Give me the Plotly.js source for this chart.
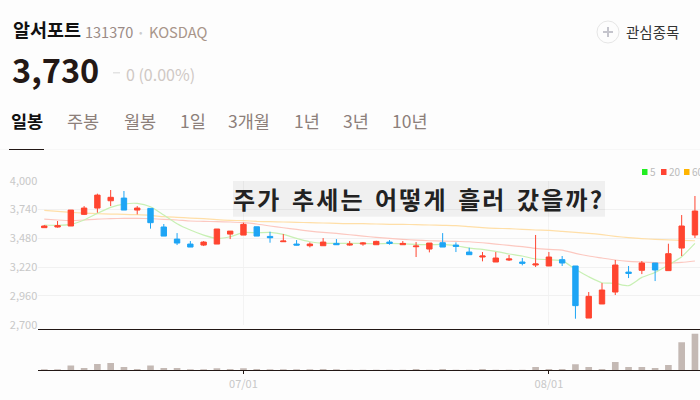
<!DOCTYPE html>
<html><head><meta charset="utf-8">
<script src="https://cdn.plot.ly/plotly-3.0.1.min.js"></script>
<style>html,body{margin:0;padding:0;background:#fdfdfd;overflow:hidden}#c{width:700px;height:400px}
.annotation[data-index="7"] text{letter-spacing:2.1px;word-spacing:3px}</style>
</head><body><div id="c"></div>
<script>
const sessions=[...Array(50).keys()];
const open_=[3576,3582,3591,3696,3753,3819,3843,3735,3750,3582,3473,3428,3419,3428,3518,3509,3584,3497,3449,3428,3413,3413,3434,3419,3428,3422,3446,3422,3404,3383,3440,3419,3356,3311,3266,3284,3266,3239,3230,3287,3230,2760,2887,2995,3175,3191,3257,3188,3392,3510];
const close_=[3591,3594,3735,3753,3870,3850,3735,3753,3621,3500,3437,3401,3446,3564,3545,3606,3500,3485,3455,3419,3428,3446,3422,3428,3437,3452,3434,3434,3410,3437,3401,3407,3332,3320,3302,3293,3254,3248,3311,3257,2872,2956,3013,3239,3163,3257,3194,3341,3591,3726];
const high_=[3600,3636,3735,3771,3883,3916,3907,3771,3750,3609,3527,3455,3455,3564,3545,3621,3584,3539,3518,3464,3443,3482,3473,3455,3446,3458,3464,3455,3446,3437,3527,3443,3395,3356,3356,3329,3302,3510,3356,3320,3230,2995,3076,3284,3230,3275,3257,3431,3690,3862];
const low_=[3576,3576,3591,3690,3711,3771,3735,3696,3567,3500,3419,3401,3410,3428,3473,3509,3500,3440,3449,3416,3398,3413,3422,3413,3413,3422,3422,3422,3311,3353,3401,3356,3332,3272,3266,3275,3236,3221,3230,3230,2754,2760,2887,2968,3121,3157,3094,3188,3320,3483];
const ma5=[3600,3597,3606,3645,3705,3759,3789,3795,3765,3690,3612,3555,3509,3479,3494,3533,3530,3533,3515,3479,3449,3434,3434,3434,3434,3431,3434,3431,3425,3422,3425,3413,3392,3380,3362,3338,3320,3293,3287,3278,3200,3133,3079,3073,3052,3127,3172,3239,3314,3434];
const ma20=[3654,3645,3639,3645,3654,3657,3660,3660,3657,3651,3645,3636,3633,3630,3627,3621,3609,3591,3575,3560,3545,3533,3524,3512,3500,3488,3479,3470,3464,3458,3455,3452,3449,3440,3428,3416,3404,3389,3380,3374,3344,3320,3302,3284,3272,3266,3260,3257,3263,3275];
const ma60=[3732,3723,3714,3708,3702,3699,3696,3693,3687,3675,3669,3663,3657,3648,3642,3639,3633,3630,3627,3624,3621,3618,3615,3612,3612,3609,3606,3606,3603,3600,3597,3594,3585,3576,3570,3567,3561,3555,3552,3543,3534,3525,3513,3498,3486,3477,3471,3465,3462,3458];
const volume=[3,3,14,7,19,22,10,4,14,7,7,3,3,6,4,6,4,3,3,3,3,4,3,2,2,2,2,2,4,2,4,2,2,4,2,2,2,10,4,4,18,10,4,25,10,10,7,16,84,109];
const priceTicks=[4000,3740,3480,3220,2960,2700];
const priceLabels=["4,000","3,740","3,480","3,220","2,960","2,700"];
const dateTicks=[15,38];
const dateLabels=["07/01","08/01"];
const tabs=["일봉","주봉","월봉","1일","3개월","1년","3년","10년"];
const tabX=[9.5,66,123,179,227,293,342,391];
const legendNames=["5","20","60"];
const legendColors=["#22ee22","#ff4433","#ffb400"];
const legendX=[642,661,684];
const FONT="'Noto Sans CJK KR','Noto Sans',sans-serif";
const UP="#ff4530",DOWN="#1ea5f5";

function txt(text,x,y,size,color,opts){
  return Object.assign({text,x:x/700,y:1-y/400,xref:'paper',yref:'paper',xanchor:'left',yanchor:'middle',showarrow:false,
    font:{family:FONT,size,color},borderpad:0},opts||{});
}
function rect(x0,y0,x1,y1,fill,line,layer,type){
  return {type:type||'rect',xref:'paper',yref:'paper',x0:x0/700,x1:x1/700,y0:1-y0/400,y1:1-y1/400,
    fillcolor:fill,line:{color:line||fill,width:line?1:0},layer:layer||'above'};
}
function ma(y,color){
  return {type:'scatter',mode:'lines',x:sessions,y,xaxis:'x',yaxis:'y',line:{color,width:1.2,shape:'spline',smoothing:0.6},hoverinfo:'skip',showlegend:false};
}
const traces=[
  ma(ma60,'#ffdfa8'),ma(ma20,'#fcc8c0'),ma(ma5,'#c8f0b4'),
  {type:'candlestick',x:sessions,open:open_,high:high_,low:low_,close:close_,xaxis:'x',yaxis:'y3',
   increasing:{line:{color:UP,width:1},fillcolor:UP},decreasing:{line:{color:DOWN,width:1},fillcolor:DOWN},
   whiskerwidth:0,showlegend:false},
  {type:'bar',x:sessions,y:volume,xaxis:'x2',yaxis:'y2',width:0.5,marker:{color:'#c4b9b4',line:{width:0}},showlegend:false}
];
const annotations=[
  txt("알서포트",12,29.5,18,"#111",{font:{family:FONT,size:18.5,color:"#111",weight:700}}),
  txt("131370",84,31,14.5,"#9a8a85"),
  txt("•",138,31,10,"#cccccc"),
  txt("KOSDAQ",147.5,31,14.7,"#a8958a"),
  txt("3,730",11,68,32.5,"#231815",{font:{family:FONT,size:32.5,color:"#231815",weight:700}}),
  txt("0 (0.00%)",125,74,16,"#cfc8c4"),
  txt("관심종목",625,31,14.5,"#333"),
  txt("주가 추세는 어떻게 흘러 갔을까?",418.5,198.5,24,"#222",{xanchor:'center',font:{family:FONT,size:24,color:"#222",weight:700}}),
  ...tabs.map((t,i)=>txt(t,tabX[i],120,17.5,i===0?"#111":"#8c7f7a",i===0?{font:{family:FONT,size:17.5,color:"#111",weight:700}}:{})),
  ...legendNames.map((t,i)=>txt(t,legendX[i]+6.5,172,10,"#bbbbbb"))
];
const shapes=[
  rect(0,149,700,149.6,"#f1f1f1"),
  rect(9,149,44,150,"#231815"),
  rect(597,21,619,43,"rgba(0,0,0,0)","#e6e6e6",'above','circle'),
  rect(603,31,613,33,"#c4c4cc"),
  rect(607,27,609,37,"#c4c4cc"),
  rect(113,72,120,73.5,"#e3e3e3"),
  rect(233,181,605,216.7,"rgba(0,0,0,0.05)"),
  ...legendColors.map((c,i)=>rect(legendX[i],169,legendX[i]+5.5,175,c))
];
const layout={
  width:700,height:400,margin:{l:0,r:0,t:0,b:0},
  paper_bgcolor:'#fdfdfd',plot_bgcolor:'rgba(0,0,0,0)',showlegend:false,boxgap:0.42,bargap:0.5,
  font:{family:FONT},
  xaxis:{domain:[38.3/700,1],range:[-0.45,49.38],type:'linear',anchor:'y',tickvals:dateTicks,ticktext:['',''],showgrid:true,gridcolor:'#f3f3f3',gridwidth:1,
    showline:false,zeroline:false,ticks:'',rangeslider:{visible:false},fixedrange:true},
  yaxis:{domain:[1-324.7/400,1-180.7/400],range:[2700,4000],anchor:'x',tickvals:priceTicks,ticktext:priceLabels,gridcolor:'#f1f1f1',gridwidth:1,
    zeroline:false,showline:false,ticks:'',tickfont:{size:11,color:'#c8c8c8',family:FONT},fixedrange:true},
  yaxis3:{domain:[1-324.7/400,1-180.7/400],range:[2700,4000],anchor:'x',overlaying:'y',showticklabels:false,showgrid:false,zeroline:false,showline:false,ticks:'',fixedrange:true},
  xaxis2:{domain:[38.3/700,1],range:[-0.45,49.38],type:'linear',anchor:'y2',tickvals:dateTicks,ticktext:dateLabels,showgrid:false,
    showline:true,linecolor:'#231815',linewidth:1,mirror:true,zeroline:false,ticks:'outside',ticklen:3,tickcolor:'#231815',tickfont:{size:11,color:'#c8c8c8',family:FONT},fixedrange:true},
  yaxis2:{domain:[1-370.3/400,1-329.5/400],range:[0,122],anchor:'x2',showticklabels:false,showgrid:false,zeroline:false,showline:false,ticks:'',fixedrange:true},
  annotations,shapes
};
Plotly.newPlot('c',traces,layout,{displayModeBar:false,staticPlot:true});
</script></body></html>
